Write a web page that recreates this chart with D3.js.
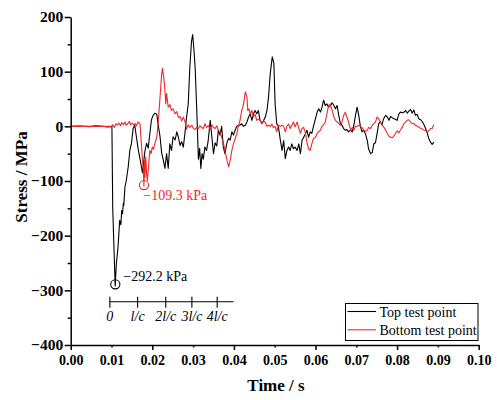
<!DOCTYPE html>
<html>
<head>
<meta charset="utf-8">
<script src="https://cdn.jsdelivr.net/npm/d3@7/dist/d3.min.js"></script>
<style>
  body { margin: 0; background: #fff; }
  svg text { font-family: "Liberation Serif", Tinos, "Times New Roman", serif; }
</style>
</head>
<body>
<svg id="js-svg" width="497" height="400"></svg>
<script>
// time in ms, stress in MPa
const topPoint = [[0,0],[2.2,0.5],[4.7,-0.5],[6.0,1],[7.1,0.5],[9.1,-1],[10.1,0],[10.3,-150],[10.9,-292],[11.2,-250],[11.6,-221],[12.0,-172],[12.3,-180],[12.5,-154],[12.7,-160],[12.9,-141],[13.0,-145],[13.3,-111],[13.6,-100],[14.1,-74],[14.5,-44],[14.9,-31],[15.3,-4],[15.7,2],[16.1,-19],[16.5,-40],[17.0,-60],[17.6,-85],[18.2,-45],[18.6,-31],[19.0,-40],[19.4,-13],[19.8,12],[20.2,20],[20.6,24],[21.1,22],[21.5,0],[21.9,-19],[22.3,-49],[22.7,-62],[23.1,-77],[23.5,-50],[23.9,-77],[24.3,-32],[24.7,-44],[25.1,-19],[25.6,-25],[26.0,-10],[26.4,-20],[26.8,-35],[27.2,-28],[27.6,-38],[28.0,-13],[28.4,17],[28.8,40],[29.2,108],[29.6,155],[29.9,168],[30.2,140],[30.5,108],[30.9,29],[31.3,-60],[31.6,-40],[31.9,-77],[32.2,-50],[32.5,-60],[32.9,-38],[33.3,-44],[33.7,-26],[34.2,11],[34.6,-20],[35.0,-50],[35.4,-30],[35.8,-36],[36.2,-7],[36.6,-16],[37.0,0],[37.4,-38],[37.8,-50],[38.3,-30],[38.7,-22],[39.1,-25],[39.5,-10],[39.9,-16],[40.3,-7],[40.7,0],[41.1,2],[41.5,2],[41.9,5],[42.3,0],[42.8,2],[43.2,8],[43.6,17],[44.0,23],[44.4,11],[44.8,23],[45.2,29],[45.6,23],[46.0,29],[46.4,11],[46.9,5],[47.3,11],[47.7,17],[48.1,29],[48.5,54],[48.9,96],[49.4,127],[49.8,115],[50.1,41],[50.5,5],[50.9,0],[51.4,-26],[51.8,-44],[52.2,-26],[52.6,-59],[53.0,-44],[53.4,-38],[53.8,-44],[54.2,-32],[54.6,-41],[55.0,-38],[55.5,-44],[55.9,-32],[56.3,-50],[56.7,-26],[57.1,-20],[57.5,-14],[57.9,-7],[58.3,-20],[58.7,-10],[59.1,-13],[59.5,0],[60.0,14],[60.4,26],[60.8,32],[61.2,26],[61.6,35],[62.0,48],[62.4,38],[62.8,41],[63.2,35],[63.6,38],[64.1,43],[64.5,38],[64.9,32],[65.3,38],[65.7,20],[66.1,5],[66.5,2],[66.9,-4],[67.3,-7],[67.7,-6],[68.1,-10],[68.6,-7],[69.0,-10],[69.4,2],[69.8,20],[70.2,35],[70.6,20],[71.0,0],[71.4,-10],[71.8,-7],[72.2,-13],[72.7,-26],[73.0,-41],[73.5,-50],[73.9,-48],[74.3,-32],[74.7,-30],[75.1,-13],[75.5,5],[75.9,8],[76.3,3],[76.7,14],[77.2,20],[77.6,17],[78.0,11],[78.4,18],[78.8,16],[79.2,14],[79.6,13],[80.0,11],[80.4,22],[80.8,26],[81.3,25],[81.7,26],[82.1,29],[82.5,24],[82.9,28],[83.3,31],[83.7,24],[84.1,30],[84.5,20],[84.9,22],[85.3,14],[85.8,12],[86.2,8],[86.6,3],[87.0,-4],[87.4,-13],[87.8,-23],[88.2,-29],[88.6,-33],[89.0,-29]];

const bottomPoint = [[0,0],[7.1,0],[10.1,0],[10.3,3],[10.7,-2],[11.1,5],[11.4,2],[11.8,6],[12.2,1],[12.5,7],[12.9,3],[13.3,8],[13.6,2],[14.0,5],[14.4,9],[14.7,3],[15.1,6],[15.5,2],[15.8,5],[16.1,1],[16.5,8],[17.0,5],[17.2,-20],[17.5,-50],[17.8,-80],[17.95,-109.3],[18.1,-62],[18.2,-93],[18.4,-56],[18.6,-87],[18.8,-99],[19.2,-62],[19.4,-44],[19.7,-50],[20.0,-38],[20.3,-42],[20.6,-32],[21.1,-20],[21.5,11],[21.9,54],[22.3,96],[22.5,106],[22.8,90],[23.1,66],[23.3,41],[23.5,60],[23.9,35],[24.3,40],[24.7,29],[25.1,32],[25.6,23],[26.0,27],[26.4,16],[26.8,18],[27.2,10],[27.6,17],[28.0,9],[28.4,-5],[28.8,3],[29.2,-2],[29.7,2],[30.1,-4],[30.5,-6],[30.9,-2],[31.3,-4],[31.7,1],[32.1,-2],[32.5,-4],[32.9,5],[33.3,-2],[33.7,1],[34.2,-5],[34.6,3],[35.0,-2],[35.4,-4],[35.8,1],[36.2,-8],[36.6,-11],[37.0,-20],[37.4,-29],[37.8,-44],[38.3,-62],[38.7,-74],[39.1,-62],[39.5,-44],[39.9,-32],[40.3,-23],[40.7,-14],[41.1,0],[41.5,11],[41.9,29],[42.3,38],[42.8,63],[43.2,54],[43.4,29],[43.7,32],[44.0,23],[44.4,29],[44.8,17],[45.2,22],[45.6,11],[46.0,13],[46.4,11],[46.9,5],[47.3,10],[47.7,7],[48.1,0],[48.5,2],[48.9,0],[49.3,4],[49.7,-2],[50.1,0],[50.5,-10],[50.9,2],[51.4,0],[51.8,2],[52.2,0],[52.6,-10],[53.0,0],[53.4,4],[53.8,-4],[54.2,2],[54.6,8],[55.0,-1],[55.5,8],[55.9,-3],[56.3,-13],[56.7,-4],[57.1,-2],[57.5,-11],[57.9,-29],[58.3,-41],[58.7,-44],[59.1,-32],[59.5,-22],[60.0,-20],[60.4,-13],[60.8,-10],[61.2,-7],[61.6,0],[62.0,3],[62.4,8],[62.8,23],[63.2,38],[63.6,41],[64.1,29],[64.5,17],[64.9,11],[65.3,8],[65.7,5],[66.1,2],[66.5,8],[66.9,20],[67.3,26],[67.7,17],[68.1,8],[68.6,-7],[69.0,-2],[69.4,-7],[69.8,0],[70.2,0],[70.6,2],[71.0,0],[71.4,-2],[71.8,-7],[72.2,-9],[72.7,-7],[73.0,-2],[73.5,-4],[73.9,2],[74.3,5],[74.7,8],[75.1,17],[75.5,14],[75.9,8],[76.3,2],[76.7,-1],[77.2,-7],[77.6,-13],[78.0,-18],[78.4,-20],[78.8,-21],[79.2,-18],[79.6,-13],[80.0,-8],[80.4,-12],[80.8,-7],[81.3,-1],[81.7,5],[82.1,8],[82.5,11],[82.9,12],[83.3,8],[83.7,5],[84.1,5],[84.5,2],[84.9,0],[85.3,-1],[85.8,-4],[86.2,-5],[86.6,-7],[87.0,-8],[87.4,-10],[87.8,-8],[88.2,-4],[88.6,-4],[89.0,3]];

const seriesNames = ["Top test point", "Bottom test point"];
const seriesColors = ["#000000", "#f02828"];
const xTicks = [0, 0.01, 0.02, 0.03, 0.04, 0.05, 0.06, 0.07, 0.08, 0.09, 0.10];
const yTicks = [-400, -300, -200, -100, 0, 100, 200];
const yMinorTicks = [-350, -250, -150, -50, 50, 150];
// inset wave-travel scale (ms) at -321 MPa
const scaleTicks = [9.6, 16.4, 23.3, 29.7, 35.9];
const scaleEnd = 39.9;
const scaleLabels = ["0", "l/c", "2l/c", "3l/c", "4l/c"];
// marked minima: time ms, stress MPa, label
const peakMarks = [
  { t: 10.93, v: -289, label: "\u2212292.2 kPa", color: "#000000", dx: 8, dy: -3 },
  { t: 17.97, v: -107.4, label: "\u2212109.3 kPa", color: "#f02828", dx: -0.7, dy: 15 },
];

const width = 497, height = 400;
const margin = { top: 17, right: 18.3, bottom: 55, left: 70.7 };
const serif = '"Liberation Serif", Tinos, "Times New Roman", serif';
const svg = d3.select("#js-svg");

const x = d3.scaleLinear().domain([0, 0.10]).range([margin.left, width - margin.right]);
const y = d3.scaleLinear().domain([-400, 200]).range([height - margin.bottom, margin.top]);

// data lines
const line = d3.line().x((d) => x(d[0] / 1000)).y((d) => y(d[1]));
[topPoint, bottomPoint].forEach((data, i) => {
  svg.append("path")
    .datum(data)
    .attr("fill", "none")
    .attr("stroke", seriesColors[i])
    .attr("stroke-width", 1.1)
    .attr("stroke-linejoin", "round")
    .attr("d", line);
});

// x axis
const xAxis = svg.append("g")
  .attr("transform", `translate(0,${y(-400)})`)
  .call(d3.axisBottom(x).tickValues(xTicks).tickFormat(d3.format(".2f")).tickSizeOuter(0));
xAxis.attr("font-family", serif);
xAxis.selectAll(".tick line")
  .attr("y2", (d, i) => (i % 2 === 0 ? 5 : 2.5))
  .attr("stroke-width", 1.5);
xAxis.selectAll(".tick text")
  .attr("y", 20).attr("dy", 0)
  .style("font-size", "14px").style("font-weight", "bold");

// y axis
const yAxis = svg.append("g")
  .attr("transform", `translate(${x(0)},0)`)
  .call(d3.axisLeft(y).tickValues(yTicks).tickSize(6).tickPadding(1.5).tickSizeOuter(0)
    .tickFormat((d) => (d < 0 ? "\u2212" + Math.abs(d) : d)));
yAxis.attr("font-family", serif);
yAxis.selectAll(".tick line").attr("stroke-width", 1.5);
yAxis.selectAll(".tick text")
  .style("font-size", "15.5px").style("font-weight", "bold");
svg.append("g")
  .attr("transform", `translate(${x(0)},0)`)
  .call(d3.axisLeft(y).tickValues(yMinorTicks).tickSize(3).tickFormat("").tickSizeOuter(0))
  .call((g) => g.select(".domain").remove())
  .selectAll(".tick line").attr("stroke-width", 1.5);
[xAxis, yAxis].forEach((g) => g.select(".domain").attr("stroke-width", 1.5));

// axis titles
svg.append("text")
  .attr("x", 276)
  .attr("y", 391)
  .attr("text-anchor", "middle")
  .style("font-size", "17px").style("font-weight", "bold")
  .text("Time / s");
svg.append("text")
  .attr("transform", "translate(27,177) rotate(-90)")
  .attr("text-anchor", "middle")
  .style("font-size", "17px").style("font-weight", "bold")
  .text("Stress / MPa");

// inset scale
const sy = y(-321);
const inset = svg.append("g").attr("stroke", "#000").attr("stroke-width", 1.1);
inset.append("line")
  .attr("x1", x(scaleTicks[0] / 1000)).attr("x2", x(scaleEnd / 1000))
  .attr("y1", sy).attr("y2", sy);
inset.selectAll(".st").data(scaleTicks).join("line")
  .attr("x1", (d) => x(d / 1000)).attr("x2", (d) => x(d / 1000))
  .attr("y1", sy - 5).attr("y2", sy + 6);
svg.selectAll(".sl").data(scaleTicks).join("text")
  .attr("x", (d) => x(d / 1000))
  .attr("y", sy + 19)
  .attr("text-anchor", "middle")
  .style("font-size", "14px").style("font-style", "italic")
  .text((d, i) => scaleLabels[i]);

// peak markers
peakMarks.forEach((p) => {
  svg.append("circle")
    .attr("cx", x(p.t / 1000)).attr("cy", y(p.v)).attr("r", 4.6)
    .attr("fill", "none").attr("stroke", p.color).attr("stroke-width", 1.1);
  svg.append("text")
    .attr("x", x(p.t / 1000) + p.dx).attr("y", y(p.v) + p.dy)
    .attr("fill", p.color).style("font-size", "14px")
    .text(p.label);
});

// legend
const lg = svg.append("g").attr("transform", "translate(345.5,303.5)");
lg.append("rect").attr("width", 132.5).attr("height", 37)
  .attr("fill", "#fff").attr("stroke", "#000").attr("stroke-width", 1);
seriesNames.forEach((name, i) => {
  lg.append("line")
    .attr("x1", 2).attr("x2", 30.5)
    .attr("y1", 8 + i * 18.3).attr("y2", 8 + i * 18.3)
    .attr("stroke", seriesColors[i]).attr("stroke-width", 1.1);
  lg.append("text")
    .attr("x", 34).attr("y", 13 + i * 18.3)
    .style("font-size", "14px")
    .text(name);
});
</script>
</body>
</html>
